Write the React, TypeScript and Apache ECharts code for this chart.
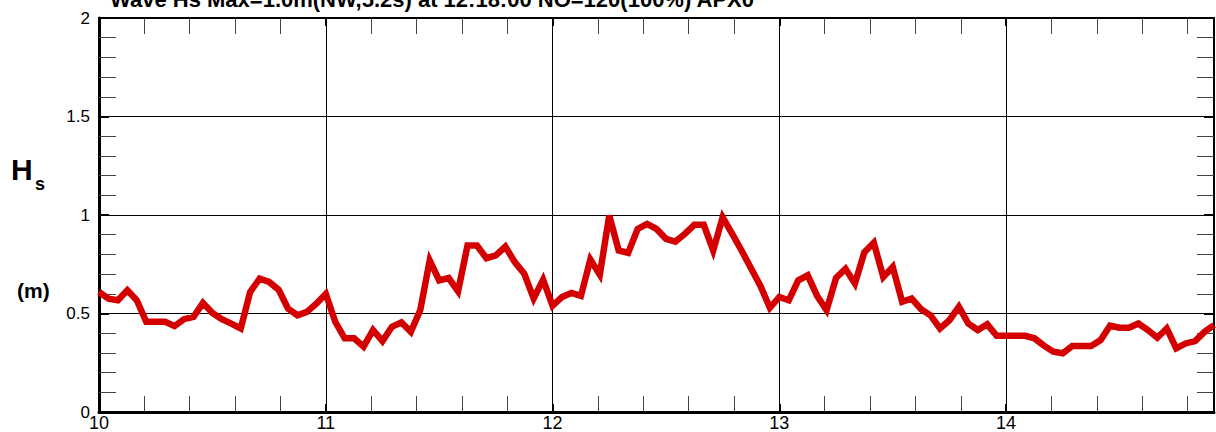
import React, { useEffect, useRef } from "react";
import * as echarts from "echarts";

const titleText = "Wave Hs Max=1.0m(NW,5.2s) at 12:18:00 NO=120(100%) APX0";
const startHour = 10;
const stepHours = 2.5 / 60;
const hsValues = [
  0.61, 0.575, 0.567, 0.618, 0.567, 0.458, 0.458, 0.458, 0.436, 0.471,
  0.483, 0.554, 0.503, 0.471, 0.449, 0.424, 0.61, 0.677, 0.66, 0.621,
  0.525, 0.491, 0.508, 0.55, 0.6, 0.458, 0.374, 0.374, 0.332, 0.416,
  0.36, 0.433, 0.455, 0.407, 0.517, 0.769, 0.668, 0.68, 0.613, 0.845,
  0.845, 0.781, 0.795, 0.84, 0.761, 0.702, 0.576, 0.672, 0.539, 0.584,
  0.604, 0.589, 0.774, 0.697, 0.997, 0.82, 0.808, 0.929, 0.955, 0.929,
  0.879, 0.865, 0.904, 0.95, 0.95, 0.82, 0.988, 0.905, 0.82, 0.73,
  0.64, 0.529, 0.584, 0.567, 0.668, 0.694, 0.589, 0.517, 0.68, 0.727,
  0.652, 0.811, 0.859, 0.685, 0.736, 0.559, 0.576, 0.522, 0.491, 0.424,
  0.466, 0.534, 0.449, 0.416, 0.445, 0.387, 0.387, 0.387, 0.387, 0.374,
  0.337, 0.306, 0.298, 0.335, 0.335, 0.335, 0.365, 0.438, 0.428, 0.428,
  0.449, 0.416, 0.377, 0.424, 0.323, 0.348, 0.36, 0.407, 0.441,
];
const xMin = 10;
const xMax = 10 + 118 / 24;
const yMin = 0;
const yMax = 2;

export default function App() {
  const ref = useRef<HTMLDivElement>(null);
  useEffect(() => {
    if (!ref.current) return;
    const chart = echarts.init(ref.current, null, { renderer: "svg" });
    const data = hsValues.map((v, i) => [startHour + i * stepHours, v]);
    const font = "'Liberation Sans', Arial, sans-serif";
    const baseX = {
      type: "value" as const,
      min: xMin,
      max: xMax,
      interval: 1,
      axisLine: { show: true, onZero: false, lineStyle: { color: "#000", width: 3 } },
      axisTick: { show: true, inside: true, length: 8, lineStyle: { color: "#000", width: 2 } },
      minorTick: { show: true, splitNumber: 5, length: 16, lineStyle: { color: "#444", width: 1 } },
    };
    const baseY = {
      type: "value" as const,
      min: yMin,
      max: yMax,
      interval: 0.5,
      axisLine: { show: true, onZero: false, lineStyle: { color: "#000", width: 3 } },
      axisTick: { show: true, inside: true, length: 10, lineStyle: { color: "#000", width: 2 } },
      minorTick: { show: true, splitNumber: 5, length: 17, lineStyle: { color: "#444", width: 1 } },
    };
    chart.setOption({
      animation: false,
      backgroundColor: "#fff",
      grid: { left: 99, right: 2, top: 18, bottom: 18, containLabel: false },
      xAxis: [
        {
          ...baseX,
          position: "bottom",
          axisLabel: {
            show: true,
            margin: 2,
            color: "#000",
            fontSize: 18,
            fontFamily: font,
            formatter: (v: number) => String(Math.round(v)),
            showMaxLabel: false,
          },
          splitLine: { show: true, lineStyle: { color: "#000", width: 1 } },
        },
        {
          ...baseX,
          position: "top",
          axisLine: { show: true, onZero: false, lineStyle: { color: "#000", width: 2 } },
          axisLabel: { show: false },
          splitLine: { show: false },
        },
      ],
      yAxis: [
        {
          ...baseY,
          position: "left",
          axisLabel: {
            show: true,
            margin: 9,
            color: "#000",
            fontSize: 17,
            fontFamily: font,
            formatter: (v: number) => String(v),
          },
          splitLine: { show: true, lineStyle: { color: "#000", width: 1 } },
        },
        {
          ...baseY,
          position: "right",
          axisLine: { show: true, onZero: false, lineStyle: { color: "#000", width: 2 } },
          axisLabel: { show: false },
          splitLine: { show: false },
        },
      ],
      series: [
        {
          type: "line",
          data,
          xAxisIndex: 0,
          yAxisIndex: 0,
          showSymbol: false,
          symbol: "none",
          lineStyle: { color: "#d40000", width: 6.5, join: "miter", cap: "butt" },
          z: 5,
        },
      ],
      graphic: [
        {
          type: "text",
          left: 110,
          top: -12,
          style: { text: titleText, fill: "#000", font: `bold 22px ${font}` },
        },
        {
          type: "text",
          left: 11,
          top: 154,
          style: { text: "H", fill: "#000", font: `bold 30px ${font}` },
        },
        {
          type: "text",
          left: 35,
          top: 175,
          style: { text: "s", fill: "#000", font: `bold 18px ${font}` },
        },
        {
          type: "text",
          left: 17,
          top: 280,
          style: { text: "(m)", fill: "#000", font: `bold 21px ${font}` },
        },
      ],
    });
    return () => chart.dispose();
  }, []);
  return (
    <div
      ref={ref}
      style={{ position: "fixed", left: 0, top: 0, width: 1216, height: 432 }}
    />
  );
}
